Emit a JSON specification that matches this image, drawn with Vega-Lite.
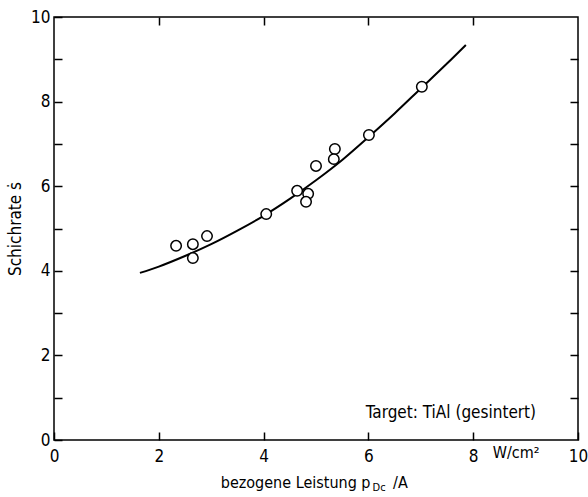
{
  "$schema": "https://vega.github.io/schema/vega-lite/v6.json",
  "width": 524,
  "height": 423,
  "autosize": {"type": "none"},
  "padding": {"left": 54, "top": 17, "right": 10, "bottom": 57},
  "background": "white",
  "config": {
    "view": {"stroke": "black", "strokeWidth": 1.5},
    "font": "DejaVu Sans Condensed, Liberation Sans Narrow, DejaVu Sans, sans-serif",
    "axis": {"grid": false, "domain": false, "tickColor": "black", "tickWidth": 1.5, "tickSize": -8, "labelColor": "black", "labelFontSize": 17, "titleColor": "black", "titleFontWeight": "normal"}
  },
  "datasets": {
    "pts": [
      {"x": 2.33, "y": 4.59},
      {"x": 2.65, "y": 4.63},
      {"x": 2.65, "y": 4.30},
      {"x": 2.92, "y": 4.82},
      {"x": 4.05, "y": 5.34},
      {"x": 4.64, "y": 5.89},
      {"x": 4.85, "y": 5.82},
      {"x": 4.81, "y": 5.63},
      {"x": 5.00, "y": 6.48},
      {"x": 5.36, "y": 6.88},
      {"x": 5.34, "y": 6.64},
      {"x": 6.01, "y": 7.21},
      {"x": 7.02, "y": 8.35}
    ],
    "curve": [
      {"x": 1.64, "y": 3.95},
      {"x": 2.0, "y": 4.10},
      {"x": 2.5, "y": 4.35},
      {"x": 3.0, "y": 4.63},
      {"x": 3.5, "y": 4.95},
      {"x": 4.0, "y": 5.30},
      {"x": 4.5, "y": 5.70},
      {"x": 5.0, "y": 6.14},
      {"x": 5.5, "y": 6.62},
      {"x": 6.0, "y": 7.16},
      {"x": 6.5, "y": 7.72},
      {"x": 7.0, "y": 8.31},
      {"x": 7.5, "y": 8.90},
      {"x": 7.86, "y": 9.34}
    ],
    "leftnotes": [
      {"x": 5.95, "y": 0.64, "t": "Target: TiAl (gesintert)"}
    ],
    "unit": [
      {"x": 8.82, "y": -0.31, "t": "W/cm²"}
    ],
    "xtitle": [
      {"x": 6.04, "y": -1.02, "t": "bezogene Leistung p"}
    ],
    "xtitle2": [
      {"x": 6.47, "y": -1.02, "t": "/A"}
    ],
    "sub": [
      {"x": 6.08, "y": -1.14, "t": "Dc"}
    ]
  },
  "layer": [
    {
      "data": {"name": "curve"},
      "mark": {"type": "line", "color": "black", "strokeWidth": 2, "interpolate": "monotone"},
      "encoding": {
        "x": {"field": "x", "type": "quantitative", "scale": {"domain": [0, 10], "nice": false},
          "axis": {"orient": "bottom", "values": [0, 2, 4, 6, 8, 10], "title": null, "labelPadding": 16, "labelFlush": false}},
        "y": {"field": "y", "type": "quantitative", "scale": {"domain": [0, 10], "nice": false},
          "axis": {"orient": "left", "values": [0, 1, 2, 3, 4, 5, 6, 7, 8, 9, 10], "labelExpr": "datum.value % 2 == 0 ? datum.label : ''", "labelPadding": 12, "labelFlush": false, "title": "Schichrate ṡ", "titleFontSize": 17, "titlePadding": 6}}
      }
    },
    {
      "data": {"name": "pts"},
      "mark": {"type": "point", "shape": "circle", "filled": true, "fill": "white", "stroke": "black", "strokeWidth": 1.5, "size": 110, "opacity": 1},
      "encoding": {
        "x": {"field": "x", "type": "quantitative", "axis": {"orient": "top", "values": [2, 4, 6, 8], "labels": false, "title": null}},
        "y": {"field": "y", "type": "quantitative", "axis": {"orient": "right", "values": [1, 2, 3, 4, 5, 6, 7, 8, 9], "labels": false, "title": null}}
      }
    },
    {
      "data": {"name": "leftnotes"},
      "mark": {"type": "text", "color": "black", "baseline": "middle", "align": "left", "fontSize": 17, "clip": false},
      "encoding": {
        "x": {"field": "x", "type": "quantitative", "axis": null},
        "y": {"field": "y", "type": "quantitative", "axis": null},
        "text": {"field": "t"}
      }
    },
    {
      "data": {"name": "unit"},
      "mark": {"type": "text", "color": "black", "baseline": "middle", "align": "center", "fontSize": 16, "clip": false},
      "encoding": {
        "x": {"field": "x", "type": "quantitative", "axis": null},
        "y": {"field": "y", "type": "quantitative", "axis": null},
        "text": {"field": "t"}
      }
    },
    {
      "data": {"name": "xtitle"},
      "mark": {"type": "text", "color": "black", "baseline": "middle", "align": "right", "fontSize": 16, "clip": false},
      "encoding": {
        "x": {"field": "x", "type": "quantitative", "axis": null},
        "y": {"field": "y", "type": "quantitative", "axis": null},
        "text": {"field": "t"}
      }
    },
    {
      "data": {"name": "xtitle2"},
      "mark": {"type": "text", "color": "black", "baseline": "middle", "align": "left", "fontSize": 16, "clip": false},
      "encoding": {
        "x": {"field": "x", "type": "quantitative", "axis": null},
        "y": {"field": "y", "type": "quantitative", "axis": null},
        "text": {"field": "t"}
      }
    },
    {
      "data": {"name": "sub"},
      "mark": {"type": "text", "color": "black", "baseline": "middle", "align": "left", "fontSize": 11, "clip": false},
      "encoding": {
        "x": {"field": "x", "type": "quantitative", "axis": null},
        "y": {"field": "y", "type": "quantitative", "axis": null},
        "text": {"field": "t"}
      }
    }
  ],
  "resolve": {"axis": {"x": "independent", "y": "independent"}}
}
